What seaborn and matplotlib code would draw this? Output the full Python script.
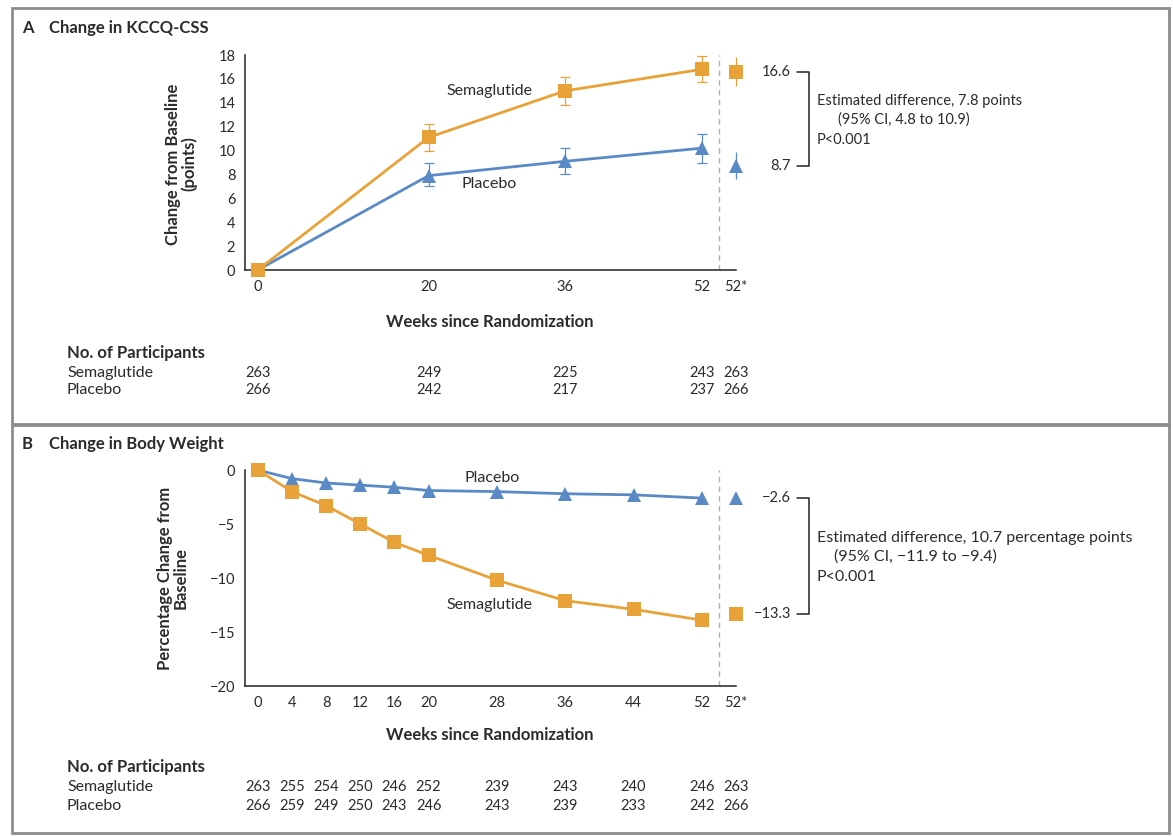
import numpy as np
import pandas as pd
import matplotlib
matplotlib.use("Agg")
import matplotlib.pyplot as plt
import matplotlib.transforms as mtransforms
from matplotlib.patches import Rectangle
import seaborn as sns

# ---- data -------------------------------------------------------------
weeks_a = [0, 20, 36, 52]
sema_a = [0, 11.1, 15.0, 16.8]
sema_a_lo = [0, 10.0, 13.8, 15.7]
sema_a_hi = [0, 12.2, 16.2, 17.9]
plac_a = [0, 7.9, 9.1, 10.2]
plac_a_lo = [0, 7.0, 8.0, 9.0]
plac_a_hi = [0, 9.0, 10.2, 11.4]
final_a = {"Semaglutide": (16.6, 15.4, 17.8), "Placebo": (8.7, 7.6, 9.9)}

weeks_b = [0, 4, 8, 12, 16, 20, 28, 36, 44, 52]
sema_b = [0, -2.0, -3.3, -5.0, -6.7, -7.9, -10.2, -12.1, -12.9, -13.9]
plac_b = [0, -0.8, -1.2, -1.4, -1.6, -1.9, -2.0, -2.2, -2.3, -2.6]
final_b = {"Semaglutide": -13.3, "Placebo": -2.6}

n_sema_a = [263, 249, 225, 243, 263]
n_plac_a = [266, 242, 217, 237, 266]
n_sema_b = [263, 255, 254, 250, 246, 252, 239, 243, 240, 246, 263]
n_plac_b = [266, 259, 249, 250, 243, 246, 243, 239, 233, 242, 266]

FINAL_X = 56  # position of the "52*" column
ORANGE = "#E8A238"
BLUE = "#5A8AC6"
TXT = "#2b2b2b"
palette = {"Semaglutide": ORANGE, "Placebo": BLUE}
markers = {"Semaglutide": "s", "Placebo": "^"}

FS_NUM = 10.5   # tick labels and counts
FS_TXT = 11.5   # plain text
FS_HEAD = 12    # bold headings

sns.set_style("white")
plt.rcParams["font.family"] = ["Lato", "DejaVu Sans"]
plt.rcParams["axes.unicode_minus"] = True

W, H = 1173, 836
fig = plt.figure(figsize=(W / 100, H / 100), dpi=100)

def px(x, y):
    return x / W, 1 - y / H

# panel frames
for (x0, y0, x1, y1) in [(12, 8, 1169, 424), (12, 425, 1169, 833)]:
    fig.patches.append(Rectangle((x0 / W, 1 - y1 / H), (x1 - x0) / W, (y1 - y0) / H,
                                 transform=fig.transFigure, fill=False,
                                 edgecolor="#8c8c8c", linewidth=2))

axA = fig.add_axes([245 / W, 1 - 270 / H, 491 / W, 215 / H])
axB = fig.add_axes([245 / W, 1 - 686 / H, 491 / W, 216 / H])


def style_axis(ax):
    sns.despine(ax=ax)
    for s in ("left", "bottom"):
        ax.spines[s].set_color("#222222")
        ax.spines[s].set_linewidth(1.1)
    ax.tick_params(axis="both", direction="out", length=5, width=1.1,
                   colors="#222222", labelsize=FS_NUM, labelcolor=TXT, pad=2)
    ax.set_xlim(-1.5, FINAL_X)
    ax.set_xlabel("")
    ax.set_ylabel("")


# ---- panel A ----------------------------------------------------------
dfA = pd.DataFrame({
    "week": weeks_a * 2,
    "value": plac_a + sema_a,
    "group": ["Placebo"] * 4 + ["Semaglutide"] * 4,
})
sns.lineplot(data=dfA, x="week", y="value", hue="group", style="group",
             palette=palette, markers=markers, dashes=False, markersize=10,
             markeredgewidth=0, linewidth=2, legend=False, ax=axA,
             hue_order=["Placebo", "Semaglutide"], clip_on=False, zorder=3)
for vals, lo, hi, col in [(plac_a, plac_a_lo, plac_a_hi, BLUE),
                          (sema_a, sema_a_lo, sema_a_hi, ORANGE)]:
    yerr = [np.array(vals) - np.array(lo), np.array(hi) - np.array(vals)]
    axA.errorbar(weeks_a[1:], vals[1:], yerr=[yerr[0][1:], yerr[1][1:]], fmt="none",
                 ecolor=col, elinewidth=0.9, capsize=3.5, capthick=0.9, zorder=2)
for grp, (v, lo, hi) in final_a.items():
    axA.errorbar([FINAL_X], [v], yerr=[[v - lo], [hi - v]], fmt=markers[grp],
                 color=palette[grp], ms=10, mew=0, elinewidth=0.9, capsize=3.5,
                 capthick=0.9, clip_on=False, zorder=3)
axA.axvline(54, color="#b0b0b0", lw=1, ls=(0, (4, 3)), zorder=1)
style_axis(axA)
axA.set_ylim(0, 18)
axA.set_yticks(range(0, 19, 2))
axA.set_xticks(weeks_a + [FINAL_X])
axA.set_xticklabels([str(w) for w in weeks_a] + ["52*"])
axA.text(27.1, 15.0, "Semaglutide", ha="center", va="center", fontsize=FS_TXT, color=TXT)
axA.text(27.1, 7.2, "Placebo", ha="center", va="center", fontsize=FS_TXT, color=TXT)

# ---- panel B ----------------------------------------------------------
dfB = pd.DataFrame({
    "week": weeks_b * 2,
    "value": plac_b + sema_b,
    "group": ["Placebo"] * len(weeks_b) + ["Semaglutide"] * len(weeks_b),
})
sns.lineplot(data=dfB, x="week", y="value", hue="group", style="group",
             palette=palette, markers=markers, dashes=False, markersize=10,
             markeredgewidth=0, linewidth=2, legend=False, ax=axB,
             hue_order=["Placebo", "Semaglutide"], clip_on=False, zorder=3)
dfBf = pd.DataFrame({"week": [FINAL_X, FINAL_X],
                     "value": [final_b["Placebo"], final_b["Semaglutide"]],
                     "group": ["Placebo", "Semaglutide"]})
sns.scatterplot(data=dfBf, x="week", y="value", hue="group", style="group",
                palette=palette, markers=markers, s=100, linewidth=0,
                legend=False, ax=axB, clip_on=False, zorder=3)
axB.axvline(54, color="#b0b0b0", lw=1, ls=(0, (4, 3)), zorder=1)
style_axis(axB)
axB.set_ylim(-20, 0)
axB.set_yticks([0, -5, -10, -15, -20])
axB.set_xticks(weeks_b + [FINAL_X])
axB.set_xticklabels([str(w) for w in weeks_b] + ["52*"])
axB.text(27.4, -0.75, "Placebo", ha="center", va="center", fontsize=FS_TXT, color=TXT)
axB.text(27.1, -12.5, "Semaglutide", ha="center", va="center", fontsize=FS_TXT, color=TXT)

# ---- titles and labels -----------------------------------------------
bold = dict(fontweight="bold", color=TXT)
fig.text(*px(22, 28), "A", fontsize=FS_HEAD, va="center", **bold)
fig.text(*px(49, 28), "Change in KCCQ-CSS", fontsize=FS_HEAD, va="center", **bold)
fig.text(*px(22, 444), "B", fontsize=FS_HEAD, va="center", **bold)
fig.text(*px(49, 444), "Change in Body Weight", fontsize=FS_HEAD, va="center", **bold)

fig.text(*px(181, 164), "Change from Baseline\n(points)", rotation=90, ha="center",
         va="center", fontsize=FS_HEAD, linespacing=1.0, **bold)
fig.text(*px(173, 578), "Percentage Change from\nBaseline", rotation=90, ha="center",
         va="center", fontsize=FS_HEAD, linespacing=1.0, **bold)
fig.text(*px(490, 322), "Weeks since Randomization", ha="center", va="center",
         fontsize=FS_HEAD, **bold)
fig.text(*px(490, 735), "Weeks since Randomization", ha="center", va="center",
         fontsize=FS_HEAD, **bold)

# ---- participant tables -----------------------------------------------
def table(ax, xs, sema_n, plac_n, y_head, y1, y2):
    fig.text(*px(67, y_head), "No. of Participants", fontsize=FS_HEAD, va="center", **bold)
    fig.text(*px(67, y1), "Semaglutide", fontsize=FS_TXT, va="center", color=TXT)
    fig.text(*px(67, y2), "Placebo", fontsize=FS_TXT, va="center", color=TXT)
    tr = mtransforms.blended_transform_factory(ax.transData, fig.transFigure)
    for x, a, b in zip(xs, sema_n, plac_n):
        ax.text(x, 1 - y1 / H, str(a), transform=tr, ha="center", va="center",
                fontsize=FS_NUM, color=TXT, clip_on=False)
        ax.text(x, 1 - y2 / H, str(b), transform=tr, ha="center", va="center",
                fontsize=FS_NUM, color=TXT, clip_on=False)

table(axA, weeks_a + [FINAL_X], n_sema_a, n_plac_a, 353, 373, 390)
table(axB, weeks_b + [FINAL_X], n_sema_b, n_plac_b, 767, 787, 806)

# ---- estimated difference brackets -------------------------------------
def bracket(ax, y_top, y_bot, lab_top, lab_bot, lines, ys_px, fs):
    tr = mtransforms.blended_transform_factory(fig.transFigure, ax.transData)
    ax.text(791 / W, y_top, lab_top, transform=tr, ha="right", va="center",
            fontsize=FS_NUM, color=TXT, clip_on=False)
    ax.text(791 / W, y_bot, lab_bot, transform=tr, ha="right", va="center",
            fontsize=FS_NUM, color=TXT, clip_on=False)
    ax.plot([797 / W, 809 / W, 809 / W, 797 / W], [y_top, y_top, y_bot, y_bot],
            transform=tr, color="#222222", lw=1.1, clip_on=False)
    for (xpx, txt), ypx in zip(lines, ys_px):
        fig.text(*px(xpx, ypx), txt, fontsize=fs, va="center", color=TXT)

bracket(axA, 16.6, 8.7, "16.6", "8.7",
        [(817, "Estimated difference, 7.8 points"), (838, "(95% CI, 4.8 to 10.9)"),
         (817, "P<0.001")], [101, 120, 140], 10.5)
bracket(axB, -2.6, -13.3, "\u22122.6", "\u221213.3",
        [(817, "Estimated difference, 10.7 percentage points"),
         (834, "(95% CI, \u221211.9 to \u22129.4)"), (817, "P<0.001")], [538, 557, 577], 11.5)

fig.savefig("out.png", dpi=100)
